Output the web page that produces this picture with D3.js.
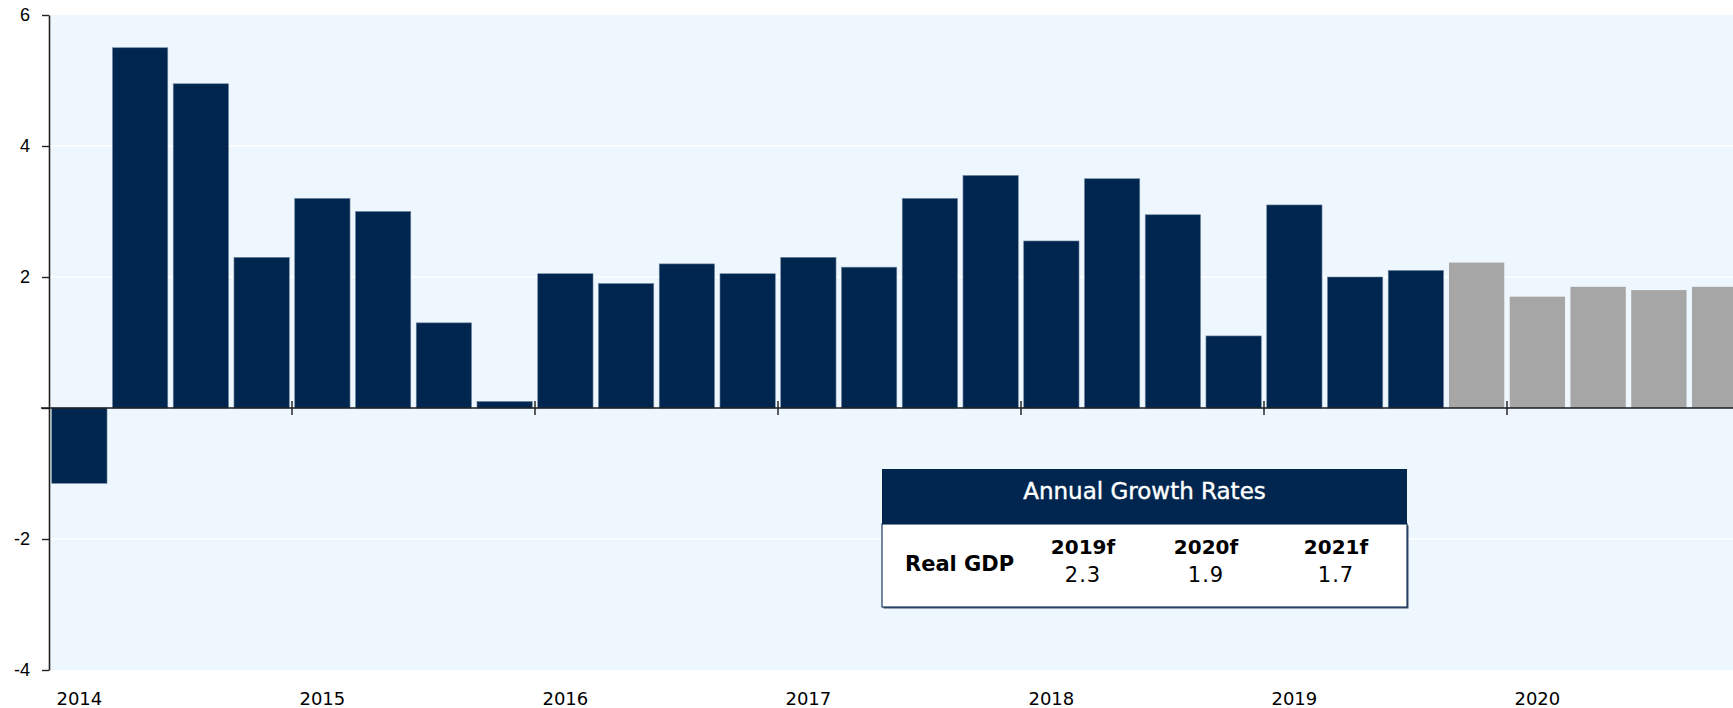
<!DOCTYPE html>
<html>
<head>
<meta charset="utf-8">
<script src="https://cdn.jsdelivr.net/npm/d3@7"></script>
<style>
  body { margin: 0; background: #fff; }
  svg { display: block; font-family: 'DejaVu Sans', sans-serif; }
</style>
</head>
<body>
<div id="chart"></div>
<script>
// Chart data
const quarters = [
    '2014Q1', '2014Q2', '2014Q3', '2014Q4',
    '2015Q1', '2015Q2', '2015Q3', '2015Q4',
    '2016Q1', '2016Q2', '2016Q3', '2016Q4',
    '2017Q1', '2017Q2', '2017Q3', '2017Q4',
    '2018Q1', '2018Q2', '2018Q3', '2018Q4',
    '2019Q1', '2019Q2', '2019Q3', '2019Q4',
    '2020Q1', '2020Q2', '2020Q3', '2020Q4'
];
const actualGrowth = [-1.15, 5.5, 4.95, 2.3, 3.2, 3.0, 1.3, 0.1, 2.05, 1.9, 2.2, 2.05,
    2.3, 2.15, 3.2, 3.55, 2.55, 3.5, 2.95, 1.1, 3.1, 2.0, 2.1];
const forecastGrowth = [2.22, 1.7, 1.85, 1.8, 1.85];
const yearLabels = ['2014', '2015', '2016', '2017', '2018', '2019', '2020'];
const yTicks = [-4, -2, 0, 2, 4, 6];

// Annual growth table
const tableTitle = 'Annual Growth Rates';
const tableRowLabel = 'Real GDP';
const tableYears = ['2019f', '2020f', '2021f'];
const tableValues = ['2.3', '1.9', '1.7'];

const W = 1733, H = 708;
const plot = { left: 49, top: 15, bottom: 670, right: 1733 };
const NAVY = '#00264f';
const GREY = '#a6a6a6';

const bars = quarters.map((q, i) => ({
    q,
    value: i < actualGrowth.length ? actualGrowth[i] : forecastGrowth[i - actualGrowth.length],
    forecast: i >= actualGrowth.length
}));

const svg = d3.select('#chart').append('svg')
    .attr('width', W)
    .attr('height', H);

// Scales
const x = d3.scaleBand()
    .domain(quarters)
    .range([plot.left, plot.left + quarters.length * 60.75])
    .paddingInner(0.09)
    .paddingOuter(0.045);

const y = d3.scaleLinear()
    .domain([-4, 6])
    .range([plot.bottom, plot.top]);

// Plot background
svg.append('rect')
    .attr('x', plot.left)
    .attr('y', plot.top)
    .attr('width', plot.right - plot.left)
    .attr('height', plot.bottom - plot.top)
    .attr('fill', '#eef6fe');

// Gridlines
svg.append('g')
    .selectAll('line')
    .data(yTicks.filter(d => d !== 0 && d !== -4 && d !== 6))
    .enter()
    .append('line')
        .attr('x1', plot.left)
        .attr('x2', plot.right)
        .attr('y1', d => y(d))
        .attr('y2', d => y(d))
        .attr('stroke', '#ffffff')
        .attr('stroke-width', 1.5);

// Bars
svg.append('g')
    .selectAll('rect')
    .data(bars)
    .enter()
    .append('rect')
        .attr('x', d => x(d.q))
        .attr('y', d => y(Math.max(0, d.value)))
        .attr('width', x.bandwidth())
        .attr('height', d => Math.abs(y(d.value) - y(0)))
        .attr('fill', d => d.forecast ? GREY : NAVY)
        .attr('stroke', d => d.forecast ? 'none' : '#6d849c')
        .attr('stroke-width', 0.6);

// Y axis
const yAxis = svg.append('g')
    .attr('transform', `translate(${plot.left},0)`)
    .call(d3.axisLeft(y)
        .tickValues(yTicks)
        .tickSize(7)
        .tickSizeOuter(0)
        .tickPadding(12)
        .tickFormat(d => d === 0 ? '' : d));
yAxis.select('.domain').attr('stroke', '#222').attr('stroke-width', 1.6);
yAxis.selectAll('.tick line').attr('stroke', '#222').attr('stroke-width', 1.4);
yAxis.selectAll('.tick text')
    .attr('fill', '#000')
    .style('font-size', '18px');

// Zero line
svg.append('line')
    .attr('x1', plot.left - 8)
    .attr('x2', plot.right)
    .attr('y1', y(0))
    .attr('y2', y(0))
    .attr('stroke', '#1a1a1a')
    .attr('stroke-width', 1.6);

// Year boundary ticks
const boundary = q => x(q) - x.step() * x.paddingInner() / 2;
const yearStarts = yearLabels.map(yr => yr + 'Q1');
svg.append('g')
    .selectAll('line')
    .data(yearStarts.slice(1))
    .enter()
    .append('line')
        .attr('x1', d => boundary(d))
        .attr('x2', d => boundary(d))
        .attr('y1', y(0) - 7)
        .attr('y2', y(0) + 7)
        .attr('stroke', '#1a1a1a')
        .attr('stroke-width', 1.4);

// Year labels
svg.append('g')
    .selectAll('text')
    .data(yearLabels)
    .enter()
    .append('text')
        .attr('x', d => x(d + 'Q1') + x.bandwidth() / 2)
        .attr('y', 705)
        .attr('text-anchor', 'middle')
        .attr('fill', '#000')
        .style('font-size', '18px')
        .text(d => d);

// Annual growth table
const tbl = { x: 882, w: 525, top: 469, headH: 55, bodyH: 83 };
const colX = [1083, 1206, 1336];
const table = svg.append('g');

// soft shadow on right/bottom edge
table.append('rect')
    .attr('x', tbl.x + 1.5)
    .attr('y', tbl.top + tbl.headH + 1.5)
    .attr('width', tbl.w)
    .attr('height', tbl.bodyH)
    .attr('fill', '#3a4f66');

table.append('rect')
    .attr('x', tbl.x)
    .attr('y', tbl.top + tbl.headH)
    .attr('width', tbl.w)
    .attr('height', tbl.bodyH)
    .attr('fill', '#fff')
    .attr('stroke', '#1c3a5c')
    .attr('stroke-width', 1.2);

table.append('rect')
    .attr('x', tbl.x)
    .attr('y', tbl.top)
    .attr('width', tbl.w)
    .attr('height', tbl.headH)
    .attr('fill', NAVY);

table.append('text')
    .attr('x', tbl.x + tbl.w / 2)
    .attr('y', tbl.top + 30)
    .attr('text-anchor', 'middle')
    .attr('fill', '#fff')
    .attr('stroke', '#fff')
    .attr('stroke-width', 0.4)
    .style('font-size', '23px')
    .text(tableTitle);

table.append('text')
    .attr('x', 905)
    .attr('y', 571)
    .attr('fill', '#000')
    .style('font-size', '21px')
    .style('font-weight', 'bold')
    .text(tableRowLabel);

table.selectAll('.yr')
    .data(tableYears)
    .enter()
    .append('text')
        .attr('class', 'yr')
        .attr('x', (d, i) => colX[i])
        .attr('y', 554)
        .attr('text-anchor', 'middle')
        .attr('fill', '#000')
        .style('font-size', '20px')
        .style('font-weight', 'bold')
        .text(d => d);

table.selectAll('.val')
    .data(tableValues)
    .enter()
    .append('text')
        .attr('class', 'val')
        .attr('x', (d, i) => colX[i])
        .attr('y', 582)
        .attr('text-anchor', 'middle')
        .attr('fill', '#000')
        .style('font-size', '21px')
        .style('letter-spacing', '1px')
        .text(d => d);
</script>
</body>
</html>
